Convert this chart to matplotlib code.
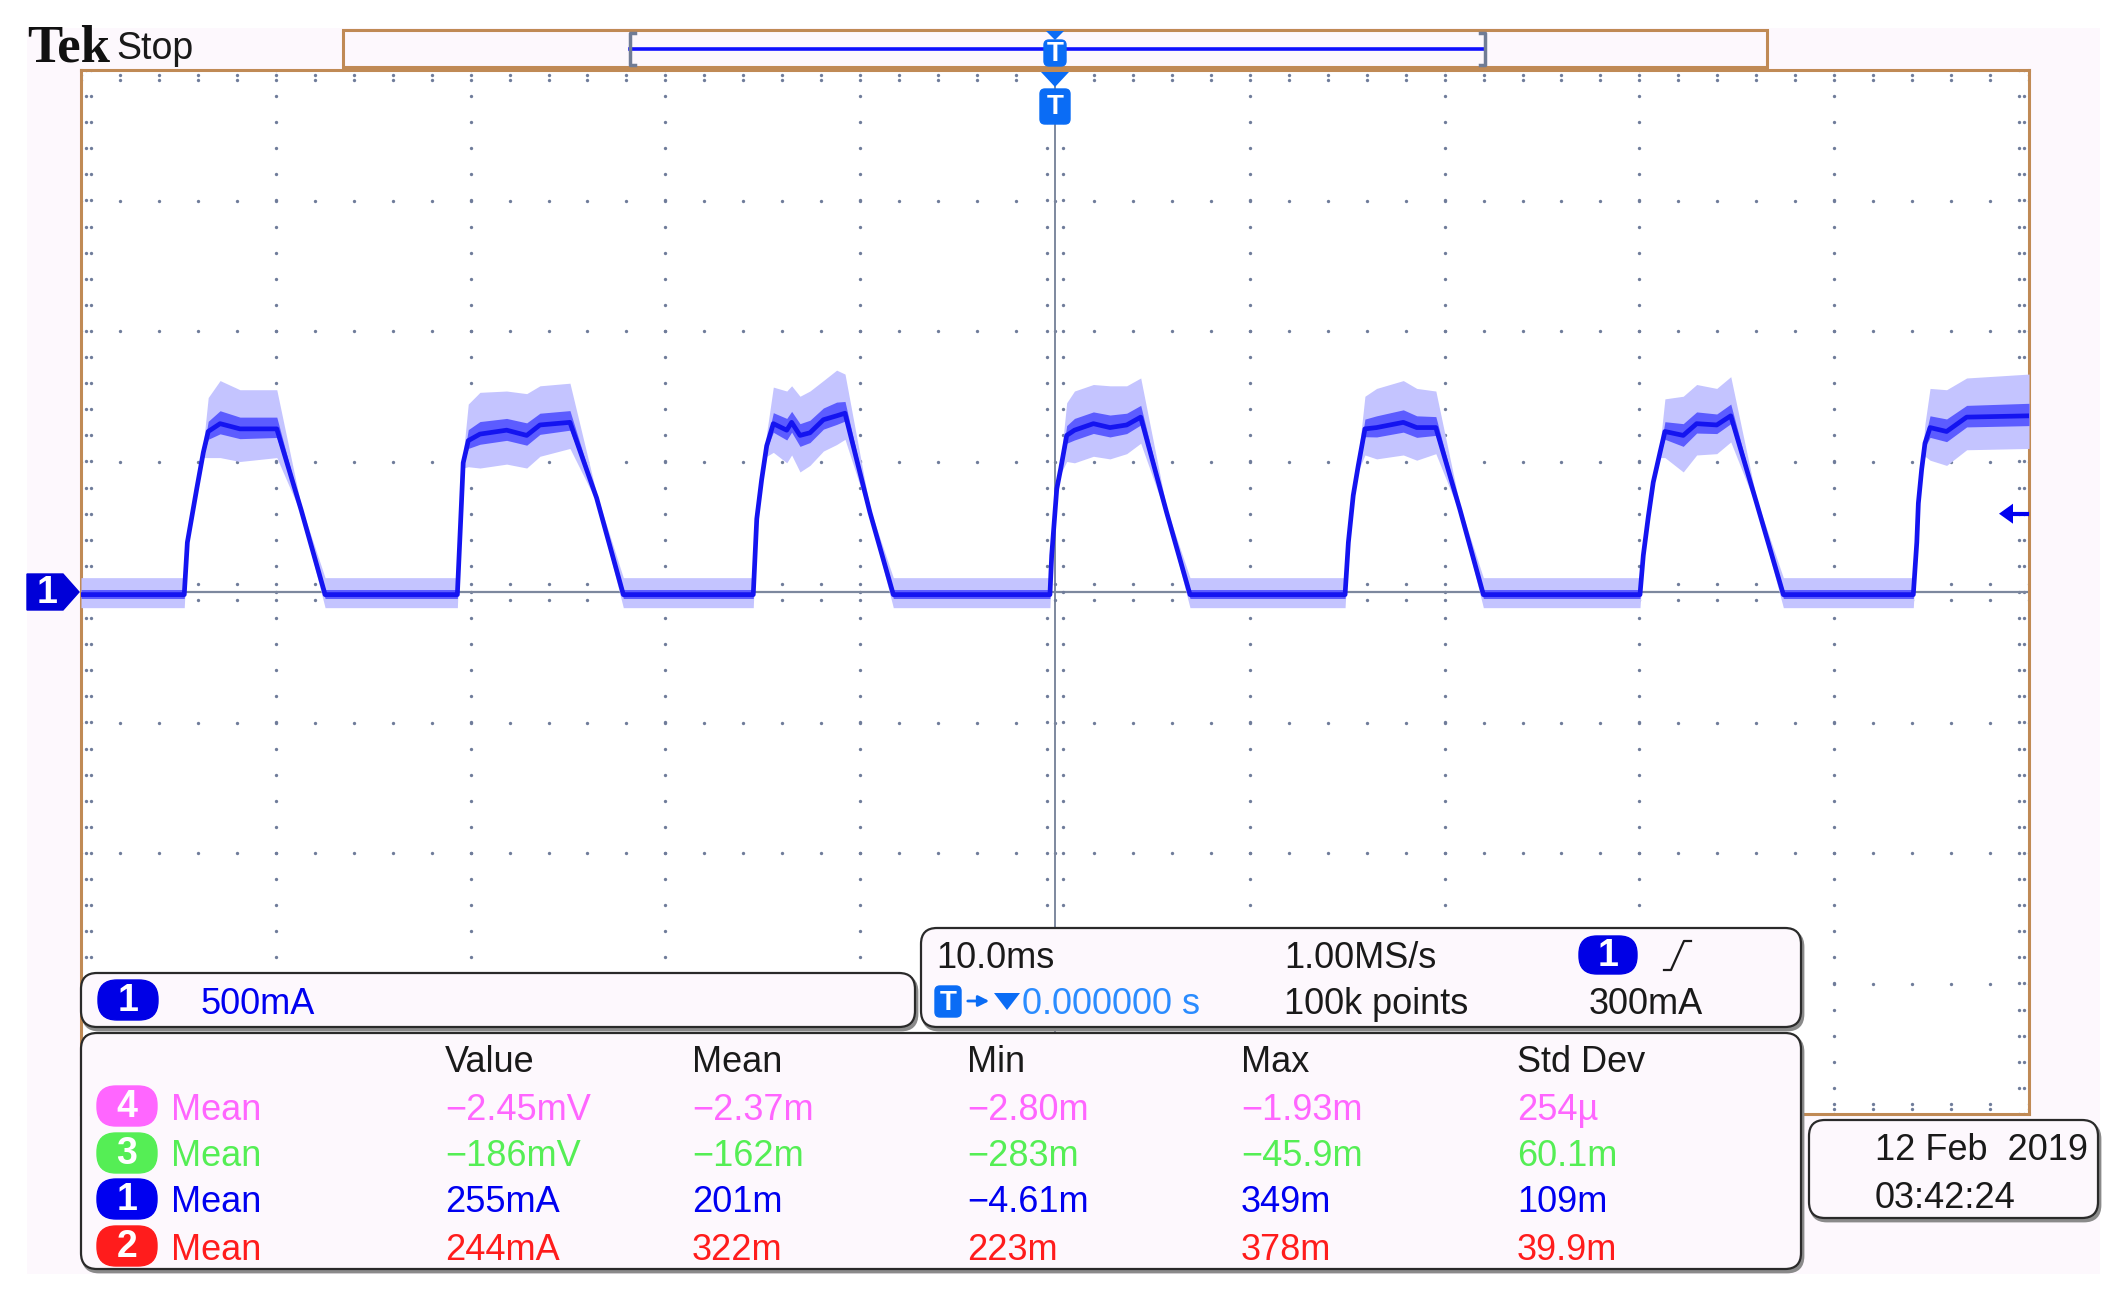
import matplotlib.pyplot as plt
from matplotlib.patches import FancyBboxPatch, Rectangle, Polygon
import numpy as np

# ---- channel 1 trace: time in ms (10 ms/div, trigger at 0), level in divisions
wave_t = [-50.0, -44.70, -44.54, -44.06, -43.72, -43.47, -42.86, -41.84, -39.95, -38.70, -37.47,
          -30.68, -30.47, -30.38, -30.12, -29.52, -28.15, -27.12, -26.44, -24.90, -23.53, -22.16,
          -15.49, -15.31, -15.06, -14.80, -14.46, -13.77, -13.52, -13.09, -12.58, -11.89, -11.21, -10.78, -9.50, -8.30,
          -0.26, -0.17, 0.09, 0.30, 0.60, 1.00, 1.97, 2.82, 3.68, 4.40, 5.73, 6.93,
          14.89, 15.06, 15.31, 15.57, 15.91, 16.51, 17.88, 18.57, 19.55, 20.79, 21.99,
          30.03, 30.20, 30.46, 30.71, 31.06, 31.31, 32.25, 32.94, 33.97, 34.69, 36.02, 37.39,
          44.06, 44.24, 44.32, 44.49, 44.66, 44.92, 45.77, 46.80, 50.0]
wave_v = [-0.02, -0.02, 0.38, 0.79, 1.07, 1.23, 1.29, 1.25, 1.25, 0.63, -0.02,
          -0.02, 0.68, 0.99, 1.16, 1.21, 1.24, 1.20, 1.28, 1.30, 0.72, -0.02,
          -0.02, 0.56, 0.86, 1.12, 1.29, 1.24, 1.30, 1.20, 1.22, 1.32, 1.35, 1.37, 0.61, -0.02,
          -0.02, 0.28, 0.79, 0.95, 1.20, 1.24, 1.29, 1.26, 1.28, 1.34, 0.61, -0.02,
          -0.02, 0.38, 0.74, 0.97, 1.25, 1.26, 1.30, 1.26, 1.26, 0.63, -0.02,
          -0.02, 0.28, 0.58, 0.84, 1.07, 1.23, 1.20, 1.29, 1.28, 1.35, 0.68, -0.02,
          -0.02, 0.38, 0.68, 0.94, 1.14, 1.26, 1.23, 1.34, 1.35]
# noise envelope above / below the trace (div)
wave_up = [0.13, 0.13, 0.03, 0.03, 0.06, 0.26, 0.33, 0.30, 0.30, 0.03, 0.13,
           0.13, 0.03, 0.06, 0.28, 0.32, 0.30, 0.32, 0.30, 0.30, 0.03, 0.13,
           0.13, 0.03, 0.04, 0.10, 0.28, 0.30, 0.28, 0.30, 0.32, 0.30, 0.35, 0.30, 0.03, 0.13,
           0.13, 0.03, 0.03, 0.06, 0.25, 0.30, 0.30, 0.32, 0.30, 0.30, 0.03, 0.13,
           0.13, 0.03, 0.03, 0.06, 0.25, 0.30, 0.32, 0.30, 0.28, 0.03, 0.13,
           0.13, 0.03, 0.03, 0.03, 0.06, 0.25, 0.30, 0.30, 0.28, 0.30, 0.03, 0.13,
           0.13, 0.03, 0.03, 0.05, 0.15, 0.30, 0.32, 0.30, 0.32]
wave_dn = [0.10, 0.10, 0.03, 0.03, 0.04, 0.20, 0.26, 0.25, 0.22, 0.03, 0.10,
           0.10, 0.03, 0.04, 0.20, 0.26, 0.26, 0.25, 0.24, 0.20, 0.03, 0.10,
           0.10, 0.03, 0.03, 0.08, 0.22, 0.25, 0.25, 0.28, 0.25, 0.24, 0.22, 0.20, 0.03, 0.10,
           0.10, 0.03, 0.03, 0.04, 0.20, 0.25, 0.25, 0.24, 0.22, 0.20, 0.03, 0.10,
           0.10, 0.03, 0.03, 0.04, 0.20, 0.24, 0.25, 0.25, 0.20, 0.03, 0.10,
           0.10, 0.03, 0.03, 0.03, 0.04, 0.20, 0.28, 0.24, 0.22, 0.20, 0.03, 0.10,
           0.10, 0.03, 0.03, 0.04, 0.10, 0.25, 0.26, 0.25, 0.25]
trig_level = 0.6   # 300mA at 500mA/div

# ---- measurement table
meas_cols = ["Value", "Mean", "Min", "Max", "Std Dev"]
meas_ch = ["4", "3", "1", "2"]
meas_value = ["\u22122.45mV", "\u2212186mV", "255mA", "244mA"]
meas_mean = ["\u22122.37m", "\u2212162m", "201m", "322m"]
meas_min = ["\u22122.80m", "\u2212283m", "\u22124.61m", "223m"]
meas_max = ["\u22121.93m", "\u221245.9m", "349m", "378m"]
meas_std = ["254\u00b5", "60.1m", "109m", "39.9m"]
ch_colors = {"4": "#ff66ff", "3": "#55ee55", "1": "#0000f0", "2": "#ff1c1c"}

FONT = ["Liberation Sans", "DejaVu Sans"]
FS = 26
SCREEN = "#fdf8fd"
BROWN = "#c08a55"
GRID = "#6f7c9a"
INK = "#1a1a1a"
W, H = 2115, 1296

fig = plt.figure(figsize=(W / 100, H / 100), dpi=100)
fig.patch.set_facecolor("white")

bg = fig.add_axes([0, 0, 1, 1], zorder=0)
bg.set_xlim(0, W)
bg.set_ylim(H, 0)
bg.axis("off")
bg.add_patch(Rectangle((27, 28), 2073, 1246, fc=SCREEN, ec="none"))

# graticule
gx0, gx1, gy0, gy1 = 81, 2029, 70, 1114
ax = fig.add_axes([gx0 / W, 1 - gy1 / H, (gx1 - gx0) / W, (gy1 - gy0) / H], zorder=1)
ax.set_xlim(-50, 50)
ax.set_ylim(-4, 4)
ax.set_facecolor("white")
ax.set_xticks([])
ax.set_yticks([])
for s in ax.spines.values():
    s.set_color(BROWN)
    s.set_linewidth(2.2)

dot = dict(ls="none", marker="o", ms=2.4, mew=0, color=GRID)
xs = np.arange(-50, 50.1, 2)
ys = np.arange(-4, 4.01, 0.2)
for gy in [-3, -2, -1, 1, 2, 3]:
    ax.plot(xs, np.full_like(xs, gy), **dot)
for gx in [-40, -30, -20, -10, 10, 20, 30, 40]:
    ax.plot(np.full_like(ys, gx), ys, **dot)
# edge ticks
for off in [0.04, 0.08]:
    ax.plot(xs, np.full_like(xs, 4 - off), **dot)
    ax.plot(xs, np.full_like(xs, -4 + off), **dot)
for off in [0.25, 0.5]:
    ax.plot(np.full_like(ys, -50 + off), ys, **dot)
    ax.plot(np.full_like(ys, 50 - off), ys, **dot)
# centre cross with minor ticks
ax.axhline(0, color="#7d889e", lw=1.6, zorder=2)
ax.axvline(0, color="#7d889e", lw=1.4, zorder=2)
for off in [0.06, -0.06]:
    ax.plot(xs, np.full_like(xs, off), **dot)
for off in [0.4, -0.4]:
    ax.plot(np.full_like(ys, off), ys, **dot)

# trace
t = np.array(wave_t)
v = np.array(wave_v)
ax.fill_between(t, v + np.array(wave_up), v - np.array(wave_dn),
                color="#c4c4ff", lw=0, zorder=3)
ax.fill_between(t, v + 0.3 * np.array(wave_up), v - 0.3 * np.array(wave_dn),
                color="#5c5cff", lw=0, zorder=4)
ax.plot(t, v, color="#1414f0", lw=3.4, zorder=5, solid_joinstyle="round")

# overlay for the instrument chrome
ov = fig.add_axes([0, 0, 1, 1], zorder=2)
ov.set_xlim(0, W)
ov.set_ylim(H, 0)
ov.axis("off")
ov.patch.set_alpha(0)


def panel(x0, y0, x1, y1, r=16):
    ov.add_patch(FancyBboxPatch((x0 + 2, y0 + 3), x1 - x0, y1 - y0,
                                boxstyle=f"round,pad=0,rounding_size={r}",
                                fc="#8a8a8a", ec="#8a8a8a", lw=2, zorder=4))
    ov.add_patch(FancyBboxPatch((x0, y0), x1 - x0, y1 - y0,
                                boxstyle=f"round,pad=0,rounding_size={r}",
                                fc=SCREEN, ec="#2a2a2a", lw=1.6, zorder=5))


def badge(cx, cy, label, color, w=60, h=40):
    ov.add_patch(FancyBboxPatch((cx - w / 2, cy - h / 2), w, h,
                                boxstyle=f"round,pad=0,rounding_size={h / 2 - 1}",
                                fc=color, ec=color, lw=1, zorder=6))
    ov.text(cx, cy + 1, label, color="white", fontsize=27, family=FONT,
            fontweight="bold", ha="center", va="center", zorder=7)


def tmark(cx, y0, y1, w=28):
    ov.add_patch(FancyBboxPatch((cx - w / 2, y0), w, y1 - y0,
                                boxstyle="round,pad=0,rounding_size=5",
                                fc="#0a6cf5", ec="#0a6cf5", lw=1, zorder=6))
    ov.text(cx, (y0 + y1) / 2 + 1, "T", color="white", fontsize=20, family=FONT,
            fontweight="bold", ha="center", va="center", zorder=7)


def txt(x, y, s, color=INK, size=FS):
    # screenshot text sits a few pixels lower than the row centres
    ov.text(x, y + 4, s, color=color, fontsize=size, family=FONT, ha="left",
            va="center", zorder=7)


# top status line
ov.text(27, 49, "Tek", family=["Liberation Serif", "DejaVu Serif"], fontweight="bold",
        fontsize=38, color="#111111", ha="left", va="center")
txt(116, 45, "Stop", size=27)

# record view bar
ov.add_patch(Rectangle((343, 30), 1767 - 343, 37, fc=SCREEN, ec=BROWN, lw=2.2, zorder=3))
ov.plot([630, 1485], [49, 49], color="#1010ff", lw=2.6, zorder=4)
for bx, d in [(630, 1), (1485, -1)]:
    ov.plot([bx + 5 * d, bx, bx, bx + 5 * d], [33, 33, 65, 65], color="#707c95", lw=2.5, zorder=4)
ov.add_patch(Polygon([(1046, 31), (1064, 31), (1055, 40)], fc="#0a6cf5", ec="none", zorder=6))
tmark(1055, 40, 66, w=22)

# trigger position marker under the bar
ov.add_patch(Polygon([(1041, 72), (1069, 72), (1055, 87)], fc="#0a6cf5", ec="none", zorder=6))
tmark(1055, 89, 124, w=30)

# channel 1 ground marker and trigger level arrow
ov.add_patch(Polygon([(27, 574), (63, 574), (79, 592), (63, 610), (27, 610)],
                     fc="#0000d8", ec="#0000d8", zorder=6))
ov.text(47, 593, "1", color="white", fontsize=27, family=FONT, fontweight="bold",
        ha="center", va="center", zorder=7)
lvl_y = gy1 - (trig_level + 4) / 8 * (gy1 - gy0)
ov.plot([2012, 2027], [lvl_y, lvl_y], color="#0000f0", lw=3, zorder=6)
ov.add_patch(Polygon([(1999, lvl_y), (2013, lvl_y - 10), (2013, lvl_y + 10)],
                     fc="#0000f0", ec="none", zorder=6))

# channel 1 scale box
panel(81, 973, 915, 1027)
badge(128, 1000, "1", "#0000e6")
txt(200, 1000, "500mA", color="#0000f0")

# timebase box
panel(921, 928, 1801, 1027)
txt(936, 955, "10.0ms")
txt(1284, 955, "1.00MS/s")
badge(1608, 955, "1", "#0000e6", w=58, h=38)
ov.plot([1664, 1671, 1684, 1691], [970, 970, 941, 941], color=INK, lw=1.6, zorder=7)
tmark(948, 986, 1017, w=26)
ov.annotate("", xy=(992, 1001), xytext=(965, 1001),
            arrowprops=dict(arrowstyle="-|>", color="#0a6cf5", lw=2, mutation_scale=16), zorder=7)
ov.add_patch(Polygon([(994, 993), (1020, 993), (1007, 1010)], fc="#0a6cf5", ec="none", zorder=7))
txt(1022, 1001, "0.000000 s", color="#2a8cff")
txt(1284, 1001, "100k points")
txt(1589, 1001, "300mA")

# measurement box
panel(81, 1033, 1801, 1269)
col_x = [445, 692, 967, 1241, 1517]
for cx, name in zip(col_x, meas_cols):
    txt(cx, 1059, name)
row_y = [1106, 1153, 1199, 1246]
for i, ch in enumerate(meas_ch):
    c = ch_colors[ch]
    badge(127, row_y[i], ch, c)
    txt(171, row_y[i], "Mean", color=c)
    for cx, col in zip(col_x, [meas_value, meas_mean, meas_min, meas_max, meas_std]):
        txt(cx, row_y[i], col[i], color=c)

# date box
panel(1809, 1120, 2098, 1218)
txt(1875, 1147, "12 Feb  2019")
txt(1875, 1194, "03:42:24")

plt.savefig("out.png", dpi=100, facecolor="white")
